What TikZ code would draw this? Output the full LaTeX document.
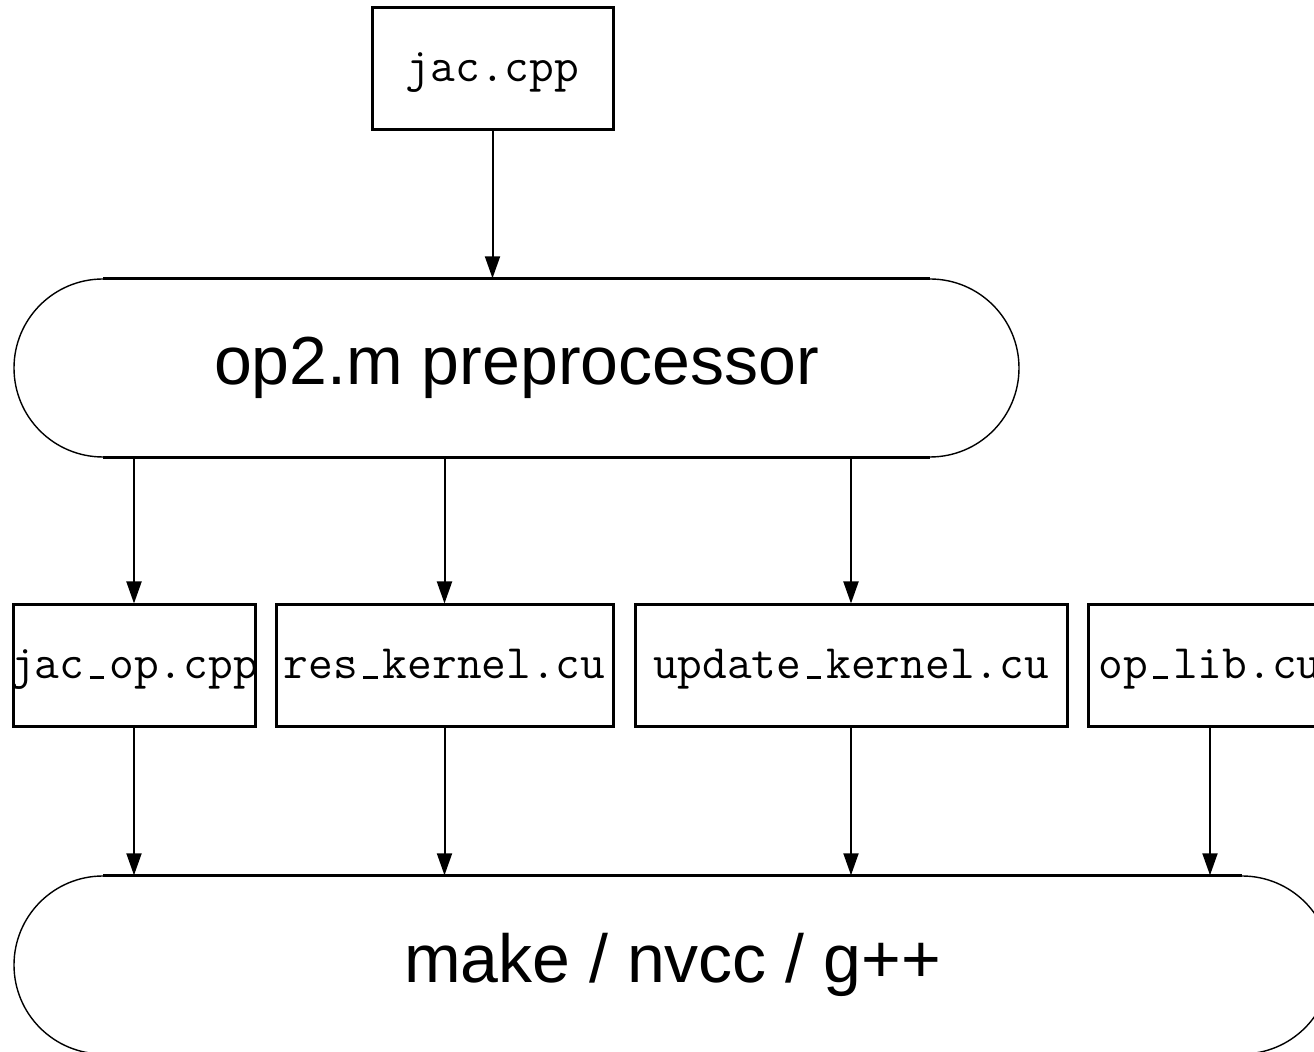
\documentclass[tikz,border=0pt]{standalone}
\usepackage{fontspec}
\setmainfont{Liberation Sans}
\setmonofont{Latin Modern Mono}
\usetikzlibrary{shapes.misc, arrows.meta, positioning, calc}

\newcommand{\fileus}{\makebox[0.525em]{\rule{0.3em}{0.055em}}}

\tikzset{
  filebox/.style={draw, line width=1.5pt, minimum height=61pt, inner sep=0pt,
        text height=17pt, text depth=4pt,
        font=\fontsize{24}{28}\selectfont\ttfamily},
  stage/.style={draw, rounded rectangle, line width=0.7pt, minimum height=89pt,
        inner sep=0pt, font=\fontsize{34}{40}\selectfont},
  stageedge/.style={line width=1.5pt},
  flow/.style={-{Triangle[length=11pt, width=7.5pt]}, line width=1pt},
}

\begin{document}
\begin{tikzpicture}[x=0.5pt, y=-0.5pt]
  \clip (0,0) rectangle (1314,1052);

  % Source file
  \node[filebox, minimum width=120.5pt] (jac) at (492.5,69) {jac.cpp};

  % Preprocessor
  \node[stage, minimum width=502.5pt] (pre) at (516.5,368) {op2.m preprocessor};
  \draw[stageedge] (pre.north west) -- (pre.north east);
  \draw[stageedge] (pre.south west) -- (pre.south east);

  % Generated files
  \node[filebox, minimum width=121pt] (jacop) at (134,666) {\makebox[0pt]{jac\fileus op.cpp}};
  \node[filebox, minimum width=168.5pt] (res) at (444.5,666) {res\fileus kernel.cu};
  \node[filebox, minimum width=216pt] (upd) at (851,666) {update\fileus kernel.cu};
  \node[filebox, minimum width=122pt] (oplib) at (1210,666) {op\fileus lib.cu};

  % Build step
  \node[stage, minimum width=658.5pt] (make) at (672.5,965) {make / nvcc / g++};
  \draw[stageedge] (make.north west) -- (make.north east);

  % Arrows
  \draw[flow] (jac) -- (jac |- pre.north);
  \foreach \f in {jacop, res, upd}
    \draw[flow] (pre.south -| \f) -- (\f);
  \foreach \f in {jacop, res, upd, oplib}
    \draw[flow] (\f) -- (\f |- make.north);
\end{tikzpicture}
\end{document}
